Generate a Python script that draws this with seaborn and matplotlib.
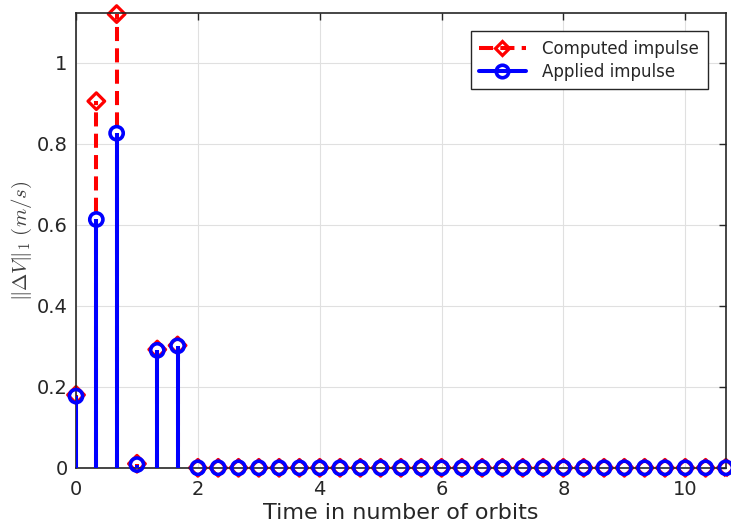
import numpy as np
import pandas as pd
import matplotlib
matplotlib.use('Agg')
import matplotlib.pyplot as plt
import seaborn as sns
from matplotlib.lines import Line2D
from matplotlib.legend_handler import HandlerLine2D

# data: one impulse every third of an orbit
orbit_steps = list(range(33))
computed_dv = [0.180, 0.905, 1.120, 0.010, 0.292, 0.302] + [0.0] * 27
applied_dv = [0.177, 0.613, 0.826, 0.008, 0.290, 0.301] + [0.0] * 27
x_ticks = [0, 2, 4, 6, 8, 10]
y_ticks = [0, 0.2, 0.4, 0.6, 0.8, 1.0]

t = np.array(orbit_steps) / 3.0
df = pd.DataFrame({'t': t, 'computed': computed_dv, 'applied': applied_dv})

sns.set_style('whitegrid')
plt.rcParams['font.family'] = ['DejaVu Sans']
plt.rcParams['mathtext.fontset'] = 'cm'

fig = plt.figure(figsize=(7.31, 5.31), dpi=100)
ax = fig.add_axes([0.104, 0.119, 0.889, 0.856])

red = '#ff0000'
blue = '#0000ff'
stem_lw = 2.9
dash = (0, (3.5, 1.8))

# computed impulse: dashed red stems with open diamonds
ax.vlines(df['t'], 0, df['computed'], colors=red, linewidth=stem_lw,
          linestyles=dash, zorder=3)
sns.scatterplot(data=df, x='t', y='computed', marker='D', s=72,
                facecolor='none', edgecolor=red, linewidth=2.3,
                ax=ax, zorder=4, clip_on=False, legend=False)

# applied impulse: solid blue stems with open circles
ax.vlines(df['t'], 0, df['applied'], colors=blue, linewidth=stem_lw, zorder=5)
sns.scatterplot(data=df, x='t', y='applied', marker='o', s=90,
                facecolor='none', edgecolor=blue, linewidth=2.6,
                ax=ax, zorder=6, clip_on=False, legend=False)

ax.set_xlim(0, 32 / 3)
ax.set_ylim(0, 1.122)
ax.set_xticks(x_ticks)
ax.set_yticks(y_ticks)
ax.set_yticklabels(['0', '0.2', '0.4', '0.6', '0.8', '1'])
ax.tick_params(direction='in', length=5, width=1, colors='#262626',
               labelsize=14, top=True, right=True, pad=6)
ax.tick_params(axis='x', pad=9)
ax.grid(True, color='#e0e0e0', linewidth=0.8)
ax.set_axisbelow(True)
for s in ax.spines.values():
    s.set_color('#262626')
    s.set_linewidth(1.2)
    s.set_zorder(4.5)

ax.set_xlabel('Time in number of orbits', fontsize=16, color='#262626', labelpad=3)
ax.set_ylabel(r'$\|\Delta V\|_1\ (m/s)$', fontsize=15, color='#404040', labelpad=2)


class EndMarkerHandler(HandlerLine2D):
    # MATLAB-style legend: marker sits on the right end of the line
    def get_xdata(self, legend, xdescent, ydescent, width, height, fontsize):
        xdata = np.array([-xdescent, -xdescent + width])
        return xdata, xdata[-1:]


h_comp = Line2D([], [], color=red, linestyle=dash, linewidth=stem_lw,
                marker='D', markersize=7.5, markerfacecolor='none', markeredgewidth=2.3)
h_app = Line2D([], [], color=blue, linewidth=stem_lw, marker='o', markersize=9,
               markerfacecolor='none', markeredgewidth=2.6)
leg = ax.legend([h_comp, h_app], ['Computed impulse', 'Applied impulse'],
                loc='upper right', bbox_to_anchor=(0.972, 0.960), borderaxespad=0,
                fontsize=12, handlelength=2.8, handletextpad=1.0, borderpad=0.5,
                labelspacing=0.3, fancybox=False, framealpha=1,
                handler_map={Line2D: EndMarkerHandler()})
leg.get_frame().set_edgecolor('#262626')
leg.get_frame().set_linewidth(1.0)

fig.savefig('out.png', dpi=100)
